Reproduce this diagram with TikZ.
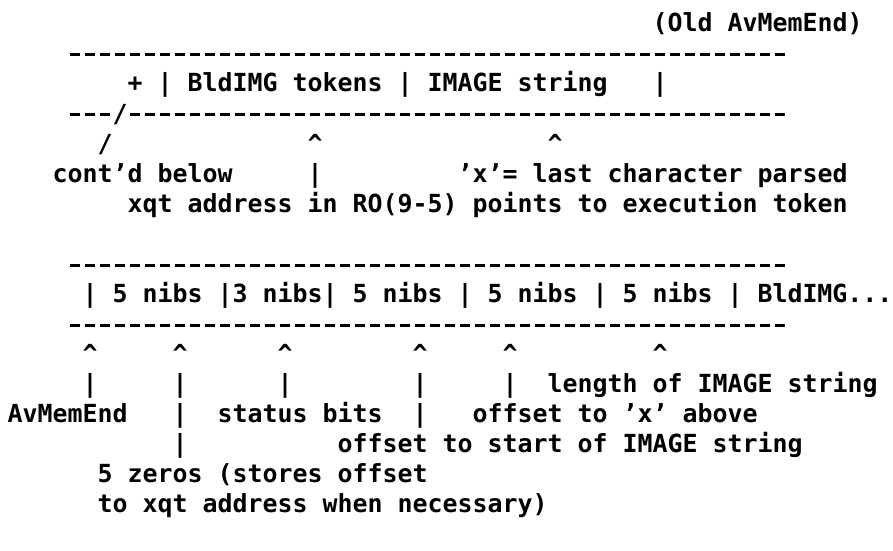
\documentclass[tikz,border=0pt]{standalone}
\usepackage{fontspec}
\newfontfamily\monofam[Ligatures=TeX]{DejaVu Sans Mono}
\newcommand{\dotmono}{\monofam\bfseries\fontsize{24.91}{30}\selectfont\frenchspacing}

\tikzset{
    txt/.style={anchor=base west, inner sep=0pt, font=\dotmono},
    rule/.style={line width=3pt, dash pattern=on 10pt off 5pt},
}

\begin{document}
\begin{tikzpicture}[x=1pt, y=1pt]
    \useasboundingbox (0,0) rectangle (893,550);

    % Upper record
    \node[txt] (oldend) at (652.5, 518) {(Old AvMemEnd)};
    \coordinate (topL) at (70, 495);
    \coordinate (topR) at (785, 495);
    \draw[rule] (topL) -- (topR);
    \node[txt] (plus) at (127.5, 458) {+};
    \node[txt] (barA) at (157.5, 458) {|};
    \node[txt] (tokens) at (187.5, 458) {BldIMG tokens};
    \node[txt] (barB) at (397.5, 458) {|};
    \node[txt] (imgstr) at (427.5, 458) {IMAGE string};
    \node[txt] (barC) at (652.5, 458) {|};
    \coordinate (midL) at (70, 435);
    \coordinate (midM) at (110, 435);
    \node[txt] (slashA) at (112.5, 428) {/};
    \coordinate (midN) at (130, 435);
    \coordinate (midR) at (785, 435);
    \draw[rule] (midL) -- (midM);
    \draw[rule] (midN) -- (midR);

    % Pointers of upper record
    \node[txt] (slashB) at (97.5, 398) {/};
    \node[txt] (upXqt) at (307.5, 398) {\textasciicircum};
    \node[txt] (upX) at (547.5, 398) {\textasciicircum};
    \node[txt] (contd) at (52.5, 368) {cont'd below};
    \node[txt] (stemXqt) at (307.5, 368) {|};
    \node[txt] (lastx) at (457.5, 368) {'x'= last character parsed};
    \node[txt] (xqt) at (127.5, 338) {xqt address in RO(9-5) points to execution token};

    % Lower record
    \coordinate (lowL) at (70, 285);
    \coordinate (lowR) at (785, 285);
    \draw[rule] (lowL) -- (lowR);
    \node[txt] (fields) at (82.5, 248) {| 5 nibs |3 nibs| 5 nibs | 5 nibs | 5 nibs | BldIMG...};
    \coordinate (botL) at (70, 225);
    \coordinate (botR) at (785, 225);
    \draw[rule] (botL) -- (botR);

    % Pointers of lower record
    \node[txt] (upEnd) at (82.5, 188) {\textasciicircum};
    \node[txt] (upZero) at (172.5, 188) {\textasciicircum};
    \node[txt] (upStat) at (277.5, 188) {\textasciicircum};
    \node[txt] (upStart) at (412.5, 188) {\textasciicircum};
    \node[txt] (upOffx) at (502.5, 188) {\textasciicircum};
    \node[txt] (upLen) at (652.5, 188) {\textasciicircum};
    \node[txt] (stemEnd) at (82.5, 158) {|};
    \node[txt] (stemZeroA) at (172.5, 158) {|};
    \node[txt] (stemStat) at (277.5, 158) {|};
    \node[txt] (stemStartA) at (412.5, 158) {|};
    \node[txt] (stemOffx) at (502.5, 158) {|};
    \node[txt] (length) at (547.5, 158) {length of IMAGE string};
    \node[txt] (avmem) at (7.5, 128) {AvMemEnd};
    \node[txt] (stemZeroB) at (172.5, 128) {|};
    \node[txt] (status) at (217.5, 128) {status bits};
    \node[txt] (stemStartB) at (412.5, 128) {|};
    \node[txt] (offx) at (472.5, 128) {offset to 'x' above};
    \node[txt] (stemZeroC) at (172.5, 98) {|};
    \node[txt] (offstart) at (337.5, 98) {offset to start of IMAGE string};
    \node[txt] (zerosA) at (97.5, 68) {5 zeros (stores offset};
    \node[txt] (zerosB) at (97.5, 38) {to xqt address when necessary)};
\end{tikzpicture}
\end{document}
